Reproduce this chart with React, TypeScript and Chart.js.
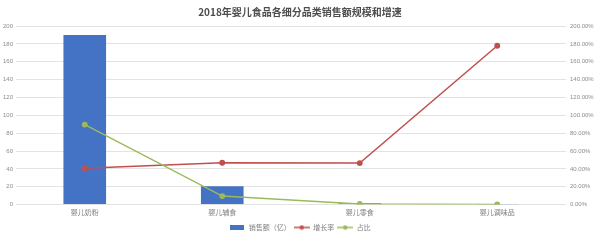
import React, { useEffect, useRef } from "react";
import { Chart, registerables } from "chart.js";

Chart.register(...registerables);

const categories = ["婴儿奶粉", "婴儿辅食", "婴儿零食", "婴儿调味品"];
const salesValues = [190, 20.5, 1.6, 0.5];
const growthRates = [40.6, 46.8, 46.5, 177.9];
const shares = [89.6, 9.5, 0.8, 0.2];
const leftTicks = [0, 20, 40, 60, 80, 100, 120, 140, 160, 180, 200];
const titleText = "2018年婴儿食品各细分品类销售额规模和增速";
const seriesNames = ["销售额（亿）", "增长率", "占比"];

const BLUE = "#4472C4";
const RED = "#C0504D";
const GREEN = "#9BBB59";
const CJK = "'Noto Sans CJK SC', 'Noto Sans', sans-serif";

function lineMarker(color: string): HTMLCanvasElement {
  const c = document.createElement("canvas");
  c.width = 16;
  c.height = 6;
  const ctx = c.getContext("2d")!;
  ctx.strokeStyle = color;
  ctx.lineWidth = 1.5;
  ctx.beginPath();
  ctx.moveTo(0, 3);
  ctx.lineTo(16, 3);
  ctx.stroke();
  ctx.fillStyle = color;
  ctx.beginPath();
  ctx.arc(8, 3, 2.2, 0, Math.PI * 2);
  ctx.fill();
  return c;
}

function boxMarker(color: string): HTMLCanvasElement {
  const c = document.createElement("canvas");
  c.width = 14;
  c.height = 5;
  const ctx = c.getContext("2d")!;
  ctx.fillStyle = color;
  ctx.fillRect(0, 0, 14, 5);
  return c;
}

export default function App() {
  const ref = useRef<HTMLCanvasElement>(null);

  useEffect(() => {
    document.body.style.margin = "0";
    const markers = [boxMarker(BLUE), lineMarker(RED), lineMarker(GREEN)];
    const chart = new Chart(ref.current!, {
      type: "bar",
      data: {
        labels: categories,
        datasets: [
          {
            type: "line",
            label: seriesNames[1],
            data: growthRates,
            yAxisID: "y1",
            borderColor: RED,
            backgroundColor: RED,
            borderWidth: 1.5,
            pointRadius: 2.2,
            pointHoverRadius: 2.2,
            order: 1,
          },
          {
            type: "line",
            label: seriesNames[2],
            data: shares,
            yAxisID: "y1",
            borderColor: GREEN,
            backgroundColor: GREEN,
            borderWidth: 1.5,
            pointRadius: 2.2,
            pointHoverRadius: 2.2,
            order: 0,
          },
          {
            type: "bar",
            label: seriesNames[0],
            data: salesValues,
            yAxisID: "y",
            backgroundColor: BLUE,
            categoryPercentage: 1,
            barPercentage: 0.31,
            order: 2,
          },
        ],
      },
      options: {
        responsive: false,
        animation: false,
        layout: { padding: { left: 0, right: 0, top: 0, bottom: 0 } },
        plugins: {
          title: {
            display: true,
            text: titleText,
            color: "#4d4d4d",
            font: { family: CJK, size: 10, weight: "bold" },
            padding: { top: 6, bottom: 8 },
          },
          legend: {
            position: "bottom",
            labels: {
              usePointStyle: true,
              pointStyleWidth: 16,
              color: "#7f7f7f",
              font: { family: CJK, size: 7 },
              boxHeight: 6,
              padding: 3,
              generateLabels: () =>
                [0, 1, 2].map((i) => ({
                  text: seriesNames[i],
                  pointStyle: markers[i],
                  fillStyle: "transparent",
                  strokeStyle: "transparent",
                  lineWidth: 0,
                  hidden: false,
                  datasetIndex: i === 0 ? 2 : i - 1,
                  fontColor: "#7f7f7f",
                })),
            },
          },
          tooltip: { enabled: false },
        },
        scales: {
          x: {
            grid: { display: false, drawTicks: false },
            border: { display: false },
            ticks: { color: "#7f7f7f", font: { family: CJK, size: 7 }, padding: 4 },
          },
          y: {
            position: "left",
            min: 0,
            max: 200,
            afterBuildTicks: (s: any) => {
              s.ticks = leftTicks.map((v) => ({ value: v }));
            },
            afterFit: (s: any) => {
              s.width = 16;
            },
            grid: { color: "#e3e3e3", drawTicks: false },
            border: { display: false },
            ticks: { color: "#8c8c8c", font: { family: "Liberation Sans", size: 6 }, padding: 3 },
          },
          y1: {
            position: "right",
            min: 0,
            max: 200,
            afterBuildTicks: (s: any) => {
              s.ticks = leftTicks.map((v) => ({ value: v }));
            },
            afterFit: (s: any) => {
              s.width = 34;
            },
            grid: { display: false, drawTicks: false },
            border: { display: false },
            ticks: {
              color: "#8c8c8c",
              font: { family: "Liberation Sans", size: 6 },
              padding: 4,
              callback: (v: any) => Number(v).toFixed(2) + "%",
            },
          },
        },
      },
    });
    return () => chart.destroy();
  }, []);

  return (
    <div style={{ width: 600, height: 241 }}>
      <canvas ref={ref} width={600} height={241} style={{ display: "block" }} />
    </div>
  );
}
